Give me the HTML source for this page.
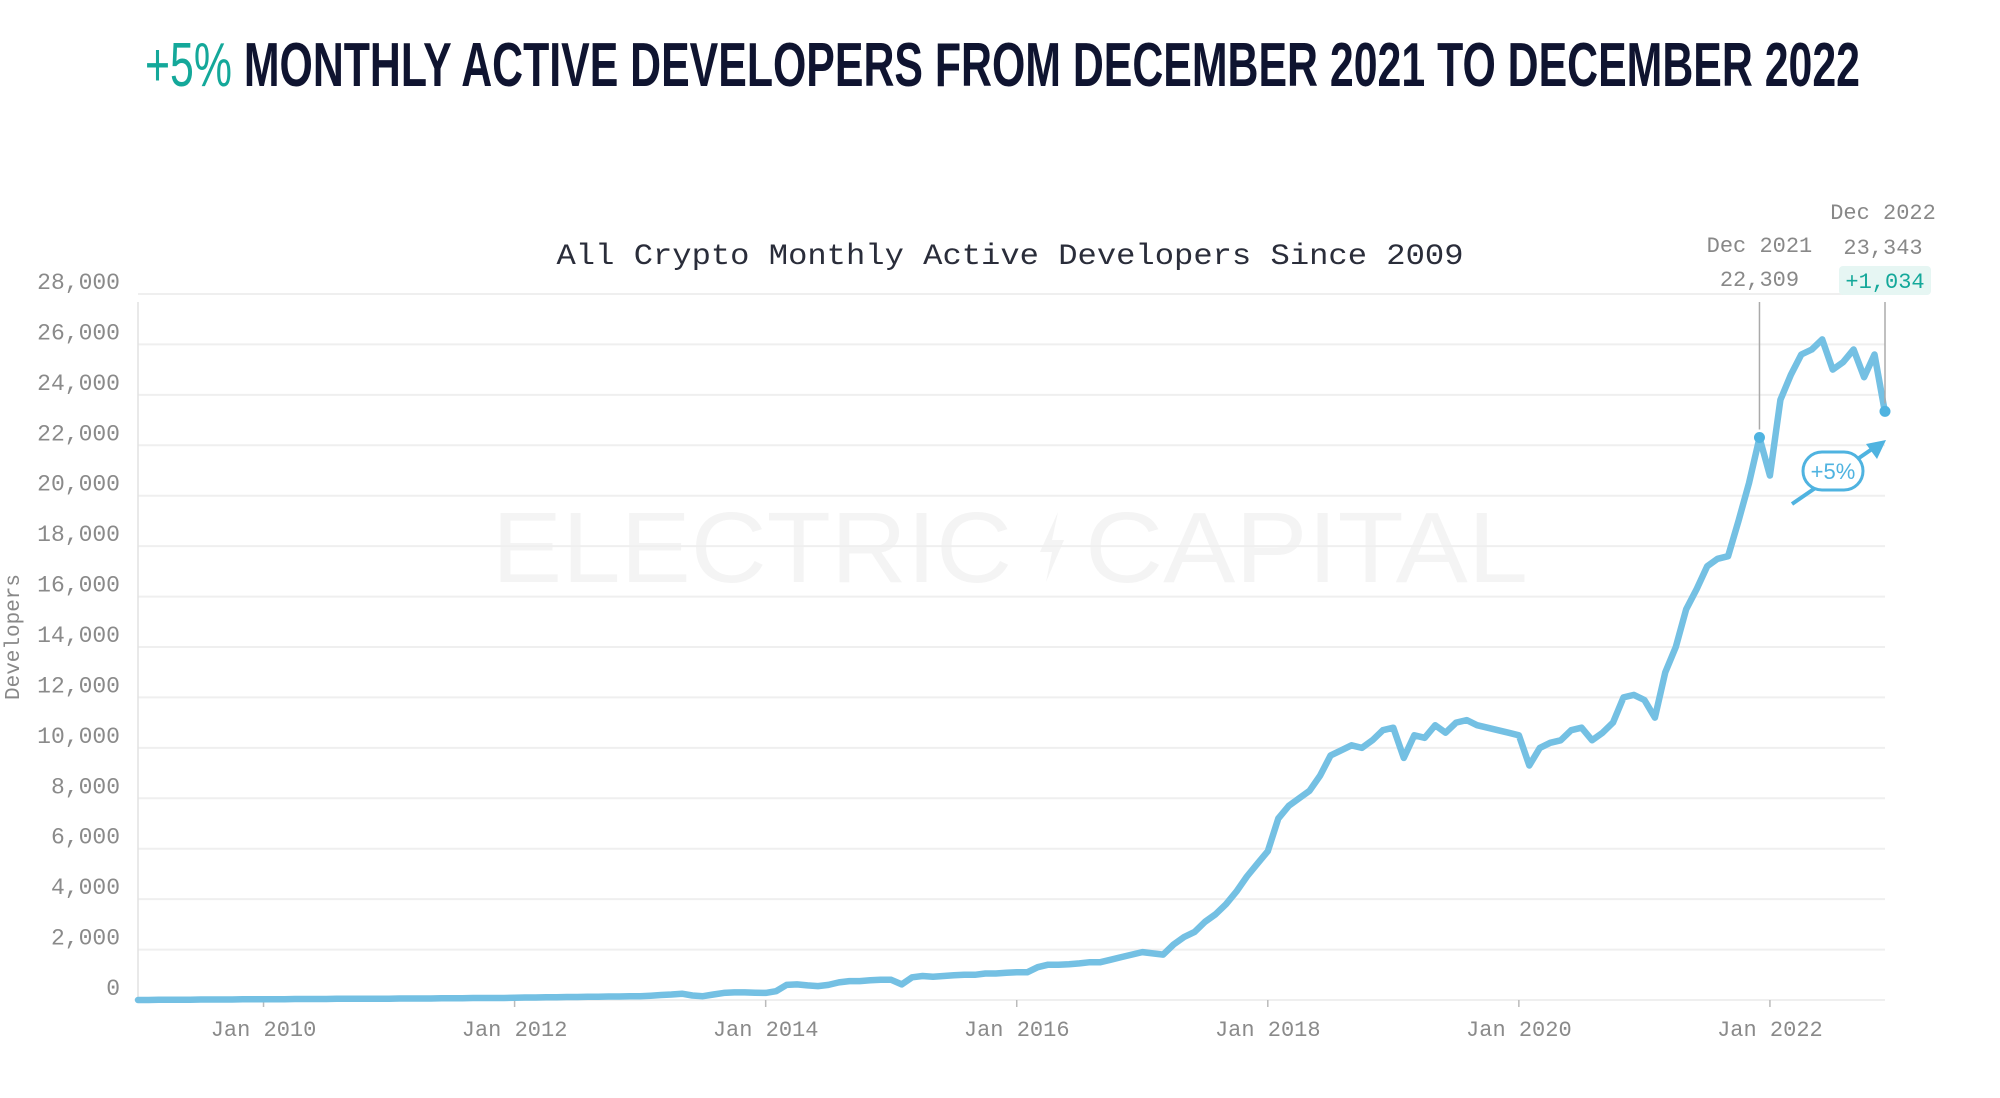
<!DOCTYPE html>
<html><head><meta charset="utf-8">
<style>
html,body{margin:0;padding:0;background:#fff;}
svg{display:block;}
</style></head>
<body>
<svg id="chart" width="2000" height="1098" viewBox="0 0 2000 1098" xmlns="http://www.w3.org/2000/svg">
  <text x="145" y="86" font-family="Liberation Sans, sans-serif" font-weight="bold" font-size="62" textLength="1715" lengthAdjust="spacingAndGlyphs"><tspan fill="#14a89a" font-weight="normal">+5%</tspan><tspan fill="#0f1430"> MONTHLY ACTIVE DEVELOPERS FROM DECEMBER 2021 TO DECEMBER 2022</tspan></text>
  <g fill="#f4f4f4">
    <text x="492" y="582" font-family="Liberation Sans, sans-serif" font-size="100" textLength="520" lengthAdjust="spacingAndGlyphs">ELECTRIC</text>
    <polygon points="1058,512 1040,552 1052,552 1046,582 1064,540 1052,540" />
    <text x="1085" y="582" font-family="Liberation Sans, sans-serif" font-size="100" textLength="443" lengthAdjust="spacingAndGlyphs">CAPITAL</text>
  </g>
  <text x="1010" y="264" text-anchor="middle" font-family="Liberation Mono, monospace" font-size="30" fill="#2a2d3a" textLength="907" lengthAdjust="spacingAndGlyphs">All Crypto Monthly Active Developers Since 2009</text>
  <text transform="translate(19,637) rotate(-90)" text-anchor="middle" font-family="Liberation Mono, monospace" font-size="21" fill="#888">Developers</text>
  <g id="grid"></g>
  <g id="yticks"></g>
  <g id="xticks"></g>
  <line x1="138" y1="302" x2="138" y2="1002" stroke="#e2e2e2" stroke-width="1.5"/>
  <path id="series" fill="none" stroke="#74c0e3" stroke-width="6.5" stroke-linejoin="round" stroke-linecap="round"/>
  <g id="annot"></g>
</svg>
<script>
const yTicks=[0,2000,4000,6000,8000,10000,12000,14000,16000,18000,20000,22000,24000,26000,28000];
const xTickYears=[2010,2012,2014,2016,2018,2020,2022];
const xTickLabels=["Jan 2010","Jan 2012","Jan 2014","Jan 2016","Jan 2018","Jan 2020","Jan 2022"];
const startYear=2009;
// monthly values (thousands), Jan 2009 .. Dec 2022
const devs2009=[0.00,0.00,0.01,0.01,0.01,0.01,0.02,0.02,0.02,0.02,0.03,0.03];
const devs2010=[0.03,0.03,0.03,0.04,0.04,0.04,0.04,0.05,0.05,0.05,0.05,0.05];
const devs2011=[0.05,0.06,0.06,0.06,0.06,0.07,0.07,0.07,0.08,0.08,0.08,0.08];
const devs2012=[0.09,0.10,0.10,0.11,0.11,0.12,0.12,0.13,0.13,0.14,0.14,0.15];
const devs2013=[0.15,0.17,0.20,0.22,0.25,0.18,0.15,0.22,0.28,0.30,0.30,0.29];
const devs2014=[0.28,0.35,0.60,0.62,0.58,0.55,0.60,0.70,0.75,0.75,0.78,0.80];
const devs2015=[0.80,0.62,0.90,0.95,0.92,0.95,0.98,1.00,1.00,1.05,1.05,1.08];
const devs2016=[1.10,1.10,1.30,1.40,1.40,1.42,1.45,1.50,1.50,1.60,1.70,1.80];
const devs2017=[1.90,1.85,1.80,2.20,2.50,2.70,3.10,3.40,3.80,4.30,4.90,5.40];
const devs2018=[5.90,7.20,7.70,8.00,8.30,8.90,9.70,9.90,10.10,10.00,10.30,10.70];
const devs2019=[10.80,9.60,10.50,10.40,10.90,10.60,11.00,11.10,10.90,10.80,10.70,10.60];
const devs2020=[10.50,9.30,10.00,10.20,10.30,10.70,10.80,10.30,10.60,11.00,12.00,12.10];
const devs2021=[11.90,11.20,13.00,14.00,15.50,16.30,17.20,17.50,17.60,19.00,20.50,22.30];
const devs2022=[20.80,23.80,24.80,25.60,25.80,26.20,25.00,25.30,25.80,24.70,25.60,23.30];
const devsAll=[].concat(devs2009,devs2010,devs2011,devs2012,devs2013,devs2014,devs2015,devs2016,devs2017,devs2018,devs2019,devs2020,devs2021,devs2022);
const calloutMonths=[155,167];
const calloutValues=[22309,23343];
const calloutLabels=["Dec 2021","Dec 2022"];
const changeLabel="+1,034";
const pctLabel="+5%";

const NS="http://www.w3.org/2000/svg";
const X0=138,X1=1885,Y0=1000,Y1=294;
function xScale(m){return X0+(X1-X0)*m/167;}
function xYear(y){return xScale((y-startYear)*12);}
function yScale(v){return Y0-(Y0-Y1)*v/28000;}
function mk(tag,attrs,parent){const e=document.createElementNS(NS,tag);for(const k in attrs)e.setAttribute(k,attrs[k]);parent.appendChild(e);return e;}
const grid=document.getElementById('grid'),yt=document.getElementById('yticks'),xt=document.getElementById('xticks'),an=document.getElementById('annot');
yTicks.forEach(v=>{
  const l=mk('line',{x1:X0,x2:X1,y1:yScale(v),y2:yScale(v),stroke:'#efefef','stroke-width':2},grid);
  
  
  const t=mk('text',{x:120,y:yScale(v)-5,'text-anchor':'end','font-family':'Liberation Mono, monospace','font-size':23,fill:'#8a8a8a'},yt);
  
  
  t.textContent=v.toLocaleString('en-US');
});
xTickYears.forEach((y,i)=>{
  const x=xYear(y);
  const l=mk('line',{x1:x,x2:x,y1:Y0,y2:Y0+7,stroke:'#bbb','stroke-width':1.5},xt);
  
  
  const t=mk('text',{x:x,y:1036,'text-anchor':'middle','font-family':'Liberation Mono, monospace','font-size':22,fill:'#8a8a8a'},xt);
  
  
  t.textContent=xTickLabels[i];
});
document.getElementById('series').setAttribute('d',devsAll.map((v,i)=>(i?'L':'M')+xScale(i).toFixed(1)+','+yScale(v*1000).toFixed(1)).join(''));
calloutMonths.forEach((m,i)=>{
  const x=xScale(m),y=yScale(calloutValues[i]);
  const l=mk('line',{x1:x,x2:x,y1:302,y2:y-8,stroke:'#aaa','stroke-width':1.5},an);
  
  
  const c=mk('circle',{cx:x,cy:y,r:5.5,fill:'#4fb3e0'},an);
  
  
});
function txt(s,x,y,fill,name){const t=mk('text',{x:x,y:y,'text-anchor':'middle','font-family':'Liberation Mono, monospace','font-size':22,fill:fill},an);t.textContent=s;return t;}
const xa=xScale(calloutMonths[0]),xb=xScale(calloutMonths[1]);
txt(calloutLabels[0],xa,252,'#888','dec-2021-label');
txt(calloutValues[0].toLocaleString('en-US'),xa,286,'#888','dec-2021-value');
txt(calloutLabels[1],xb-2,219,'#888','dec-2022-label');
txt(calloutValues[1].toLocaleString('en-US'),xb-2,254,'#888','dec-2022-value');
const bx=mk('rect',{x:1839,y:266,width:92,height:29,rx:4,fill:'#e6f6f3'},an);


txt(changeLabel,1885,288,'#14a89a','change-value');
const a=mk('line',{x1:1792,y1:504,x2:1875,y2:447,stroke:'#4fb3e0','stroke-width':4},an);


const ah=mk('polygon',{points:'1886,440 1866,444 1877,459',fill:'#4fb3e0'},an);


const pill=mk('rect',{x:1803,y:452,width:60,height:38,rx:19,fill:'#fff',stroke:'#4fb3e0','stroke-width':3},an);


const pt=mk('text',{x:1833,y:479,'text-anchor':'middle','font-family':'Liberation Sans, sans-serif','font-size':22,fill:'#4fb3e0'},an);


pt.textContent=pctLabel;
</script>
</body></html>
